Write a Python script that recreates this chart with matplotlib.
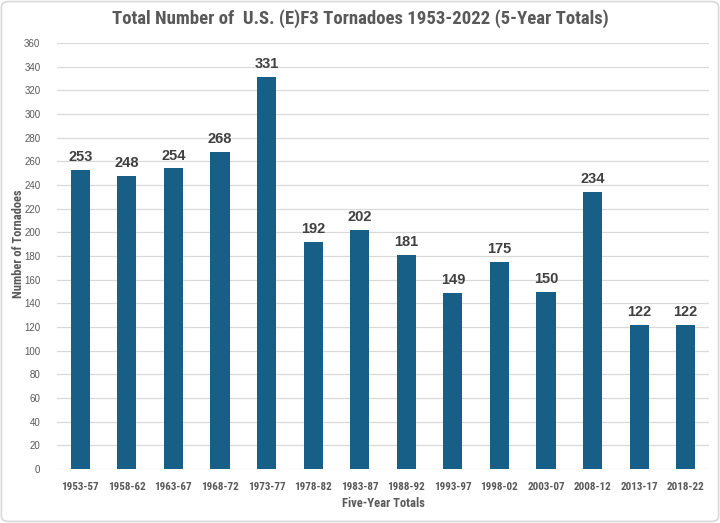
import matplotlib.pyplot as plt
from matplotlib import font_manager
from matplotlib.patches import FancyBboxPatch

periods = ["1953-57", "1958-62", "1963-67", "1968-72", "1973-77", "1978-82", "1983-87",
           "1988-92", "1993-97", "1998-02", "2003-07", "2008-12", "2013-17", "2018-22"]
counts = [253, 248, 254, 268, 331, 192, 202, 181, 149, 175, 150, 234, 122, 122]
yticks = list(range(0, 361, 20))

BAR = "#175f86"
GRAY = "#595959"

# pick a narrow face if one is installed
installed = {f.name for f in font_manager.fontManager.ttflist}
NARROW = [f for f in ["Roboto Condensed", "DejaVu Sans Condensed", "Liberation Sans Narrow",
                      "Open Sans Condensed", "Roboto"] if f in installed] + ["DejaVu Sans"]

fig = plt.figure(figsize=(7.2, 5.23), dpi=100)
ax = fig.add_axes([57 / 720, 1 - 469 / 523, 652 / 720, 426 / 523])

x = range(len(periods))
ax.bar(x, counts, width=0.41, color=BAR, zorder=3)
for i, v in zip(x, counts):
    ax.text(i, v + 5, str(v), ha="center", va="bottom", fontsize=10.5,
            fontweight="bold", color="#404040", family="Liberation Sans")

ax.set_xlim(-0.5, len(periods) - 0.5)
ax.set_ylim(0, 360)
ax.set_yticks(yticks)
ax.set_yticklabels([str(t) for t in yticks], fontsize=7, color=GRAY, family="Liberation Sans")
ax.set_xticks(list(x))
ax.set_xticklabels(periods, fontsize=8, fontweight="bold", color=GRAY, family=NARROW)
ax.tick_params(length=0)
ax.tick_params(axis="x", pad=9)
ax.tick_params(axis="y", pad=12)
ax.grid(axis="y", color="#d9d9d9", linewidth=0.9, zorder=0)
for s in ax.spines.values():
    s.set_visible(False)

ax.set_xlabel("Five-Year Totals", fontsize=9, fontweight="bold", color=GRAY, family=NARROW, labelpad=4)
ax.set_ylabel("Number of Tornadoes", fontsize=9, fontweight="bold", color=GRAY, family=NARROW)
ax.yaxis.set_label_coords(-0.049, 0.53)

fig.text(0.5, 1 - 19 / 523, "Total Number of  U.S. (E)F3 Tornadoes 1953-2022 (5-Year Totals)",
         ha="center", va="center", fontsize=13.5, fontweight="bold", color=GRAY, family=NARROW)

fig.patches.append(FancyBboxPatch((0.002, 0.003), 0.996, 0.994, boxstyle="round,pad=0,rounding_size=0.01",
                                  transform=fig.transFigure, fill=False, edgecolor="#d9d9d9", linewidth=1.2))

fig.savefig("out.png", dpi=100)
